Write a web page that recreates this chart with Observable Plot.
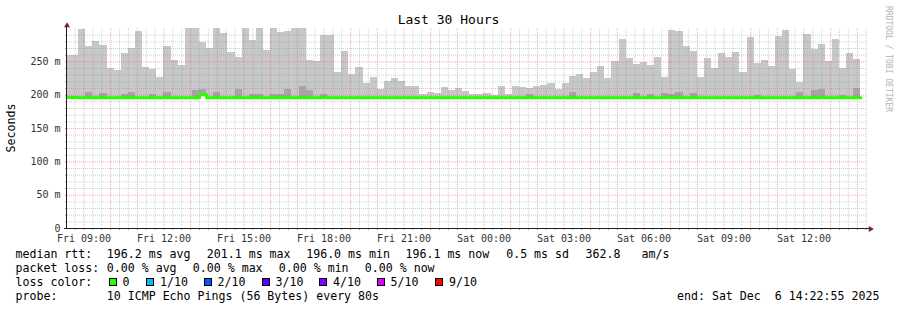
<!DOCTYPE html>
<html>
<head>
<meta charset="utf-8">
<script src="https://cdn.jsdelivr.net/npm/d3@7"></script>
<script src="https://cdn.jsdelivr.net/npm/@observablehq/plot@0.6"></script>
<style>
  body { margin: 0; background: #fff; }
  #wrap { position: relative; width: 897px; height: 310px; overflow: hidden; background: #fff;
          font-family: "DejaVu Sans Mono", monospace; color: #000; }
  .t { position: absolute; white-space: pre; line-height: 14px; font-size: 11.6px; }
  .sq { position: absolute; width: 6px; height: 6px; border: 1px solid #000; }
</style>
</head>
<body>
<div id="wrap"></div>
<script>
// ---------- data ----------
const startTime = new Date("2025-12-05T08:22:55Z");
const endTime = new Date("2025-12-06T14:22:55Z");
const firstBarStart = new Date("2025-12-05T08:16:00Z");
const stepSeconds = 960;

// top of the smoke (slowest ping) per 16-minute step, ms
const smokeTop = [
  260, 260, 298, 273, 280.5, 275, 240.5, 237, 262.5, 270,
  295.5, 241.5, 238.5, 226.5, 273, 252, 244.5, 300, 300, 279,
  270, 300, 292.5, 264, 256.5, 300, 282, 300, 267, 300,
  294, 295.5, 300, 300, 252, 250.5, 289.5, 289.5, 234, 265.5,
  231, 241.5, 217.5, 226.5, 208.5, 220.5, 225, 220.5, 213, 213,
  201, 204, 202.5, 211.5, 207, 210, 206, 201, 201, 202.5,
  199, 213, 201, 213, 211.5, 210, 213, 214.5, 217.5, 208.5,
  217.5, 228, 231, 225, 234, 243, 225, 250.5, 283.5, 255,
  246, 249, 244.5, 256.5, 226.5, 297, 295.5, 273, 265.5, 226.5,
  255, 240, 262.5, 256.5, 264, 234, 286.5, 247.5, 252, 243,
  288, 297, 238.5, 219, 291, 268.5, 276, 250.5, 283.5, 240,
  262.5, 253.5
];
// top of the dense (darker) inner smoke, ms
const smokeDark = [
  196.2, 196.2, 196.2, 204, 196.2, 202.5, 196.2, 196.2, 201, 204,
  196.2, 196.2, 201, 196.2, 204, 196.2, 196.2, 196.2, 207, 208.5,
  196.2, 204, 196.2, 196.2, 208.5, 196.2, 201, 201, 196.2, 201,
  201, 208.5, 196.2, 213, 207, 196.2, 201, 196.2, 196.2, 196.2,
  196.2, 196.2, 196.2, 196.2, 196.2, 196.2, 196.2, 196.2, 196.2, 196.2,
  196.2, 196.2, 196.2, 196.2, 196.2, 196.2, 196.2, 196.2, 196.2, 196.2,
  196.2, 196.2, 196.2, 196.2, 196.2, 201, 196.2, 196.2, 196.2, 196.2,
  196.2, 204, 196.2, 196.2, 196.2, 196.2, 196.2, 196.2, 196.2, 196.2,
  202.5, 196.2, 201, 196.2, 202.5, 201, 204, 196.2, 202.5, 196.2,
  196.2, 196.2, 196.2, 196.2, 196.2, 196.2, 196.2, 199.5, 196.2, 196.2,
  196.2, 196.2, 196.2, 204, 196.2, 207, 208.5, 196.2, 196.2, 199.5,
  196.2, 210
];
// median rtt, ms
const medianRtt = [
  196.4, 196.4, 196.2, 196.2, 196.2, 196.2, 196.2, 196.2, 196.2, 196.2,
  196.2, 196.2, 196.2, 196.2, 196.2, 196.2, 196.2, 196.2, 196.2, 200.5,
  196.0, 196.2, 196.2, 196.2, 196.2, 196.2, 196.2, 196.2, 196.2, 196.2,
  196.2, 196.2, 196.2, 196.2, 196.2, 196.2, 196.2, 196.2, 196.2, 196.2,
  196.2, 196.2, 196.2, 196.2, 196.2, 196.2, 196.2, 196.2, 196.2, 196.2,
  196.2, 196.2, 196.2, 196.2, 196.2, 196.2, 196.2, 196.2, 196.2, 196.2,
  196.2, 196.2, 196.2, 196.2, 196.2, 196.2, 196.2, 196.2, 196.2, 196.2,
  196.2, 196.2, 196.2, 196.2, 196.2, 196.2, 196.2, 196.2, 196.2, 196.2,
  196.2, 196.2, 196.2, 196.2, 196.2, 196.2, 196.2, 196.2, 196.2, 196.2,
  196.2, 196.2, 196.2, 196.2, 196.2, 196.2, 196.2, 196.2, 196.2, 196.2,
  196.2, 196.2, 196.2, 196.2, 196.2, 196.2, 196.2, 196.2, 196.2, 196.2,
  196.2, 196.1
];

const yLabelValues = [0, 50, 100, 150, 200, 250];
const yLabels = ["0", "50 m", "100 m", "150 m", "200 m", "250 m"];
const xLabelTimes = ["2025-12-05T09:00Z", "2025-12-05T12:00Z", "2025-12-05T15:00Z", "2025-12-05T18:00Z",
  "2025-12-05T21:00Z", "2025-12-06T00:00Z", "2025-12-06T03:00Z", "2025-12-06T06:00Z",
  "2025-12-06T09:00Z", "2025-12-06T12:00Z"].map(s => new Date(s));
const xLabels = ["Fri 09:00", "Fri 12:00", "Fri 15:00", "Fri 18:00", "Fri 21:00",
  "Sat 00:00", "Sat 03:00", "Sat 06:00", "Sat 09:00", "Sat 12:00"];

const titleText = "Last 30 Hours";
const yTitle = "Seconds";
const watermark = "RRDTOOL / TOBI OETIKER";
const rttStats = ["196.2 ms avg", "201.1 ms max", "196.0 ms min", "196.1 ms now", "0.5 ms sd", "362.8", "am/s"];
const lossStats = ["0.00 % avg", "0.00 % max", "0.00 % min", "0.00 % now"];
const lossLabels = ["0", "1/10", "2/10", "3/10", "4/10", "5/10", "9/10"];
const lossColors = ["#26ff00", "#00b8ff", "#0059ff", "#5e00ff", "#7e00ff", "#dd00ff", "#ff0000"];
const probeText = "10 ICMP Echo Pings (56 Bytes) every 80s";
const endText = "end: Sat Dec  6 14:22:55 2025";

// ---------- layout ----------
const rttX = [106.8, 206.8, 306.2, 405.5, 506.2, 585.5, 641.5];
const lossX = [106.8, 192.8, 278.8, 364.8];
const squareX = [108.5, 146, 203.5, 261.5, 319, 376.5, 435];
const rowTop = [247.3, 261.3, 275.3, 289.3];

// ---------- chart ----------
const bars = smokeTop.map((top, i) => ({
  start: new Date(+firstBarStart + i * stepSeconds * 1000),
  end: new Date(+firstBarStart + (i + 1) * stepSeconds * 1000),
  top, dark: smokeDark[i], med: medianRtt[i]
}));
const medianPts = bars.map(b => ({t: b.start, v: b.med}));
medianPts.push({t: bars[bars.length - 1].end, v: bars[bars.length - 1].med});

const yMinor = d3.range(10, 300, 10).filter(v => v % 50 !== 0);
const yMajor = [50, 100, 150, 200, 250];
const xMinor = d3.utcMinute.every(20).range(startTime, endTime).filter(d => d.getUTCMinutes() !== 0);
const xMajor = d3.utcHour.range(startTime, endTime);

const minorColor = "rgba(143,143,143,0.42)";
const majorColor = "rgba(222,79,79,0.45)";
const arrowColor = "#801f1f";
const axisColor = "#1f1f1f";
const yLabelMap = new Map(yLabelValues.map((v, i) => [v, yLabels[i]]));
const xLabelMap = new Map(xLabelTimes.map((d, i) => [+d, xLabels[i]]));

const chart = Plot.plot({
  width: 897, height: 245,
  marginLeft: 67, marginRight: 30, marginTop: 28, marginBottom: 17,
  x: {type: "utc", domain: [startTime, endTime], label: null},
  y: {domain: [0, 300], label: null},
  style: {background: "transparent", fontFamily: '"DejaVu Sans Mono", monospace', fontSize: "10px", color: "#333", overflow: "visible"},
  marks: [
    Plot.rect(bars, {x1: "start", x2: "end", y1: "med", y2: "top", fill: "#c8c8c8", clip: true, shapeRendering: "crispEdges"}),
    Plot.rect(bars.filter(b => b.dark > b.med), {x1: "start", x2: "end", y1: "med", y2: "dark", fill: "#a6a6a6", clip: true, shapeRendering: "crispEdges"}),
    Plot.ruleY(yMinor, {stroke: minorColor, strokeDasharray: "1,1"}),
    Plot.ruleX(xMinor, {stroke: minorColor, strokeDasharray: "1,1"}),
    Plot.ruleY(yMajor, {stroke: majorColor, strokeDasharray: "1,1"}),
    Plot.ruleX(xMajor, {stroke: majorColor, strokeDasharray: "1,1"}),
    Plot.line(medianPts, {x: "t", y: "v", curve: "step-after", stroke: "#26ff00", strokeWidth: 3, clip: true}),
    // ticks
    Plot.axisY(yMinor, {tickSize: 2, tickFormat: () => "", stroke: "#aaa", label: null}),
    Plot.axisY(yMajor, {tickSize: 2, tickFormat: () => "", stroke: "#e08080", label: null}),
    Plot.axisX(xMinor, {tickSize: 2, tickFormat: () => "", stroke: "#aaa", label: null}),
    Plot.axisX(xMajor, {tickSize: 2, tickFormat: () => "", stroke: "#e08080", label: null}),
    // labels
    Plot.axisY(yLabelValues, {tickSize: 0, tickPadding: 7, tickFormat: d => yLabelMap.get(d), fill: "#333", label: null}),
    Plot.axisX(xLabelTimes, {tickSize: 0, tickPadding: 6, tickFormat: d => xLabelMap.get(+d), fill: "#333", label: null}),
    // axis lines + arrows
    Plot.ruleX([startTime], {stroke: axisColor, insetTop: -4, dx: -1}),
    Plot.ruleY([0], {stroke: axisColor, insetLeft: -3, insetRight: -2}),
    Plot.dot([{t: startTime, v: 300}], {x: "t", y: "v", symbol: "triangle", r: 2.2, fill: arrowColor, stroke: "none", dy: -2.9, dx: -0.5}),
    Plot.dot([{t: endTime, v: 0}], {x: "t", y: "v", symbol: "triangle", r: 2.2, fill: arrowColor, stroke: "none", rotate: 90, dx: 3, dy: 0.5})
  ]
});

const wrap = document.getElementById("wrap");
chart.style.position = "absolute";
chart.style.left = "0px";
chart.style.top = "0px";
wrap.appendChild(chart);

function addText(txt, left, top, extra = {}) {
  const d = document.createElement("div");
  d.className = "t";
  d.textContent = txt;
  d.style.left = left + "px";
  d.style.top = top + "px";
  Object.assign(d.style, extra);
  wrap.appendChild(d);
  return d;
}

// title
addText(titleText, 0, 11.5, {width: "897px", textAlign: "center", fontSize: "13px", lineHeight: "16px"});
// y title
addText(yTitle, 10.5, 127.5, {transform: "translate(-50%,-50%) rotate(-90deg)"});
// watermark
addText(watermark, 887.5, 59, {transform: "translate(-50%,-50%) rotate(90deg)", fontSize: "8px", lineHeight: "9px", color: "#b4b4b4"});

// legend
addText("median rtt:", 15.5, rowTop[0]);
rttStats.forEach((s, i) => addText(s, rttX[i], rowTop[0]));
addText("packet loss:", 15.5, rowTop[1]);
lossStats.forEach((s, i) => addText(s, lossX[i], rowTop[1]));
addText("loss color:", 15.5, rowTop[2]);
lossLabels.forEach((s, i) => {
  const sq = document.createElement("div");
  sq.className = "sq";
  sq.style.left = squareX[i] + "px";
  sq.style.top = (rowTop[2] + 3) + "px";
  sq.style.background = lossColors[i];
  wrap.appendChild(sq);
  addText(s, squareX[i] + 14, rowTop[2]);
});
addText("probe:", 15.5, rowTop[3]);
addText(probeText, 106.8, rowTop[3]);
addText(endText, 677, rowTop[3]);
</script>
</body>
</html>
